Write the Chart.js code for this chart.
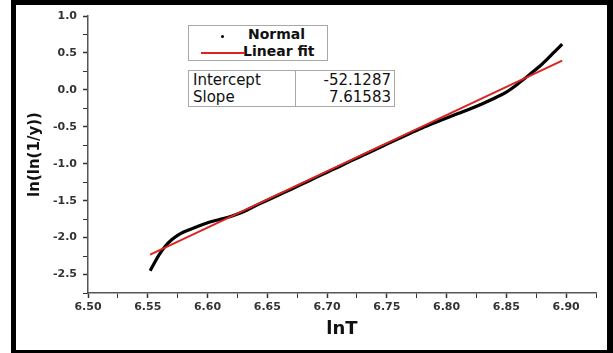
<!DOCTYPE html>
<html>
<head>
<meta charset="utf-8">
<script src="https://cdn.jsdelivr.net/npm/chart.js@4.4.1/dist/chart.umd.min.js"></script>
<style>
  body { margin: 0; background: #fff; }
  #wrap { position: relative; width: 613px; height: 353px; overflow: hidden; }
  #frame { position: absolute; left: 11px; top: 0; width: 602px; height: 353px; box-sizing: border-box;
           border-style: solid; border-color: #000; border-width: 5px 6px 3px 5px; }
  #chart { position: absolute; left: 0; top: 0; }
  .box { position: absolute; border: 1px solid #a8a8a8; background: #fff; box-sizing: border-box; }
  #legend { left: 188px; top: 25px; width: 140px; height: 36px; font: bold 14px "DejaVu Sans"; color: #111; }
  #legend .row { position: absolute; left: 0; white-space: nowrap; }
  #legend .dot { position: absolute; width: 3px; height: 3px; background: #000; border-radius: 50%; }
  #legend .ln { position: absolute; height: 2px; background: #dc2320; }
  #fit { left: 188px; top: 70px; width: 207px; height: 37px; font: 15px "DejaVu Sans"; color: #111; }
  #fit .c { position: absolute; white-space: nowrap; line-height: 17px; }
  #fit .sep { position: absolute; left: 106px; top: 0; bottom: 0; width: 1px; background: #a8a8a8; }
</style>
</head>
<body>
<div id="wrap">
  <div id="frame"></div>
  <canvas id="chart" width="613" height="353"></canvas>
  <div id="legend" class="box">
    <span class="dot" style="left:32px; top:9px;"></span>
    <span class="row" style="left:59px; top:0px;">Normal</span>
    <span class="ln" style="left:12px; width:43px; top:26px;"></span>
    <span class="row" style="left:54px; top:17px;">Linear fit</span>
  </div>
  <div id="fit" class="box">
    <span class="sep"></span>
    <span class="c" style="left:4px; top:1px;" id="k0"></span>
    <span class="c" style="left:4px; top:18px;" id="k1"></span>
    <span class="c" style="right:3px; top:1px;" id="v0"></span>
    <span class="c" style="right:3px; top:18px;" id="v1"></span>
  </div>
</div>
<script>
// measured curve (lnT, ln(ln(1/y)))
var lnT = [6.552, 6.556, 6.560, 6.565, 6.570, 6.575, 6.580, 6.590, 6.600, 6.610, 6.620, 6.630,
           6.640, 6.650, 6.660, 6.670, 6.680, 6.690, 6.700, 6.710, 6.720, 6.730, 6.740, 6.750,
           6.760, 6.770, 6.780, 6.790, 6.800, 6.810, 6.820, 6.830, 6.840, 6.850, 6.860, 6.870,
           6.880, 6.890, 6.8967];
var lnln = [-2.45, -2.33, -2.22, -2.11, -2.03, -1.97, -1.925, -1.86, -1.80, -1.755, -1.71, -1.65,
            -1.57, -1.495, -1.42, -1.345, -1.268, -1.192, -1.115, -1.04, -0.962, -0.886, -0.81, -0.735,
            -0.66, -0.585, -0.512, -0.445, -0.38, -0.318, -0.255, -0.187, -0.113, -0.03, 0.085, 0.215,
            0.35, 0.51, 0.62];

// linear fit endpoints
var fitX = [6.552, 6.8967];
var fitY = [-2.23, 0.395];

var fitKeys = ['Intercept', 'Slope'];
var fitVals = ['-52.1287', '7.61583'];

var xRange = [6.50, 6.925];
var yRange = [-2.75, 1.0];

document.getElementById('k0').textContent = fitKeys[0];
document.getElementById('k1').textContent = fitKeys[1];
document.getElementById('v0').textContent = fitVals[0];
document.getElementById('v1').textContent = fitVals[1];

function pts(xs, ys) {
  return xs.map(function (x, i) { return { x: x, y: ys[i] }; });
}
function isMajor(v, step) {
  var r = v / step;
  return Math.abs(r - Math.round(r)) < 1e-6;
}

var tickFont = { family: 'DejaVu Sans', weight: 'bold', size: 11 };

var ctx = document.getElementById('chart').getContext('2d');
new Chart(ctx, {
  type: 'scatter',
  data: {
    datasets: [{
      label: 'Linear fit',
      data: pts(fitX, fitY),
      showLine: true,
      borderColor: '#dc2320',
      borderWidth: 2,
      pointRadius: 0,
      order: 0
    }, {
      label: 'Normal',
      data: pts(lnT, lnln),
      showLine: true,
      borderColor: '#000',
      borderWidth: 3.2,
      pointRadius: 0,
      cubicInterpolationMode: 'monotone',
      order: 1
    }]
  },
  options: {
    responsive: false,
    animation: false,
    layout: { padding: { left: 20, right: 17, top: 16, bottom: 10 } },
    plugins: { legend: { display: false }, tooltip: { enabled: false } },
    scales: {
      x: {
        type: 'linear',
        min: xRange[0], max: xRange[1],
        afterFit: function (s) { s.height = 50; },
        border: { display: true, color: '#555', width: 1.5 },
        grid: {
          drawOnChartArea: false, drawTicks: true, tickLength: 5,
          tickColor: '#333',
          tickWidth: function (c) { return isMajor(c.tick.value, 0.05) ? 1.5 : 1; }
        },
        ticks: {
          stepSize: 0.025, autoSkip: false, maxRotation: 0, padding: 3,
          color: '#333', font: tickFont,
          callback: function (v) { return isMajor(v, 0.05) ? v.toFixed(2) : ''; }
        },
        title: {
          display: true, text: 'lnT', color: '#111',
          font: { family: 'DejaVu Sans', weight: 'bold', size: 18 },
          padding: { top: 4, bottom: 3 }
        }
      },
      y: {
        type: 'linear',
        min: yRange[0], max: yRange[1],
        afterFit: function (s) { s.width = 68; },
        border: { display: true, color: '#555', width: 1.5 },
        grid: {
          drawOnChartArea: false, drawTicks: true, tickLength: 5,
          tickColor: '#333',
          tickWidth: function (c) { return isMajor(c.tick.value, 0.5) ? 1.5 : 1; }
        },
        ticks: {
          stepSize: 0.25, autoSkip: false, padding: 6,
          color: '#333', font: tickFont,
          callback: function (v) { return isMajor(v, 0.5) ? v.toFixed(1) : ''; }
        },
        title: {
          display: true, text: 'ln(ln(1/y))', color: '#111',
          font: { family: 'DejaVu Sans', weight: 'bold', size: 15 },
          padding: { top: 6, bottom: 0 }
        }
      }
    }
  }
});
</script>
</body>
</html>
